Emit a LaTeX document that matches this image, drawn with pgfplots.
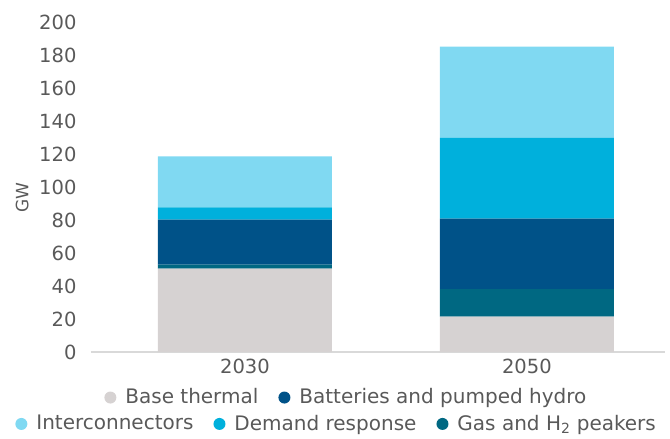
\documentclass[border=0pt]{standalone}
\usepackage{fontspec}
\setmainfont{DejaVu Sans}
\usepackage{pgfplots}
\pgfplotsset{compat=1.18}
\definecolor{cBase}{HTML}{D6D2D2}
\definecolor{cGas}{HTML}{006882}
\definecolor{cBat}{HTML}{005288}
\definecolor{cDem}{HTML}{00B0DC}
\definecolor{cInt}{HTML}{80D9F2}
\definecolor{tgray}{HTML}{595959}
\definecolor{agray}{HTML}{D9D9D9}
\pgfplotsset{
  common/.style={
    at={(0bp,0bp)}, anchor=south west,
    scale only axis, width=574bp, height=330bp,
    xmin=-0.546, xmax=1.49, ymin=0, ymax=200,
  },
  legimg/.style={
    legend image code/.code={\fill[##1] (0bp,0bp) circle (6bp);},
    legend style={draw=none, fill=none, legend columns=-1,
      nodes={text=tgray, inner xsep=9bp},
      /tikz/every even column/.append style={column sep=11bp}},
  }
}
\begin{document}
\fontsize{19bp}{23bp}\selectfont
\begin{tikzpicture}
\path[use as bounding box] (-91bp,-87bp) rectangle (579bp,330bp+22bp);
\begin{axis}[common,
  ybar stacked, bar width=174bp, legimg,
  xtick={0,1}, xticklabels={2030,2050},
  ytick={0,20,...,200},
  /pgf/number format/assume math mode=true,
  major tick length=0pt,
  axis x line*=bottom, axis y line*=left,
  separate axis lines,
  x axis line style={draw=agray, line width=1.3bp, -},
  y axis line style={draw=none},
  tick label style={text=tgray, font=\fontsize{19.5bp}{23bp}\selectfont},
  yticklabel style={xshift=-8bp},
  ylabel={GW},
  ylabel style={at={(axis description cs:-0.12,0.467)}, anchor=center, text=tgray, font=\fontsize{17bp}{20bp}\selectfont},
  legend style={at={(axis description cs:0.451,-0.138)}, anchor=center, font=\fontsize{20bp}{24bp}\selectfont},
]
\addplot[fill=cBase, draw=none] coordinates {(0,50.5) (1,21.5)};
\addlegendentry{Base thermal}
\addplot[fill=cGas, draw=none, forget plot] coordinates {(0,2.4) (1,16.6)};
\addplot[fill=cBat, draw=none] coordinates {(0,27.3) (1,42.8)};
\addlegendentry{Batteries and pumped hydro}
\addplot[fill=cDem, draw=none, forget plot] coordinates {(0,7.5) (1,48.8)};
\addplot[fill=cInt, draw=none, forget plot] coordinates {(0,30.8) (1,55.3)};
\end{axis}
\begin{axis}[common, legimg, hide axis,
  legend style={at={(axis description cs:0.434,-0.218)}, anchor=center, font=\fontsize{20bp}{24bp}\selectfont},
]
\addlegendimage{fill=cInt, draw=none}
\addlegendentry{Interconnectors}
\addlegendimage{fill=cDem, draw=none}
\addlegendentry{Demand response}
\addlegendimage{fill=cGas, draw=none}
\addlegendentry{Gas and H\textsubscript{2} peakers}
\end{axis}
\end{tikzpicture}
\end{document}
